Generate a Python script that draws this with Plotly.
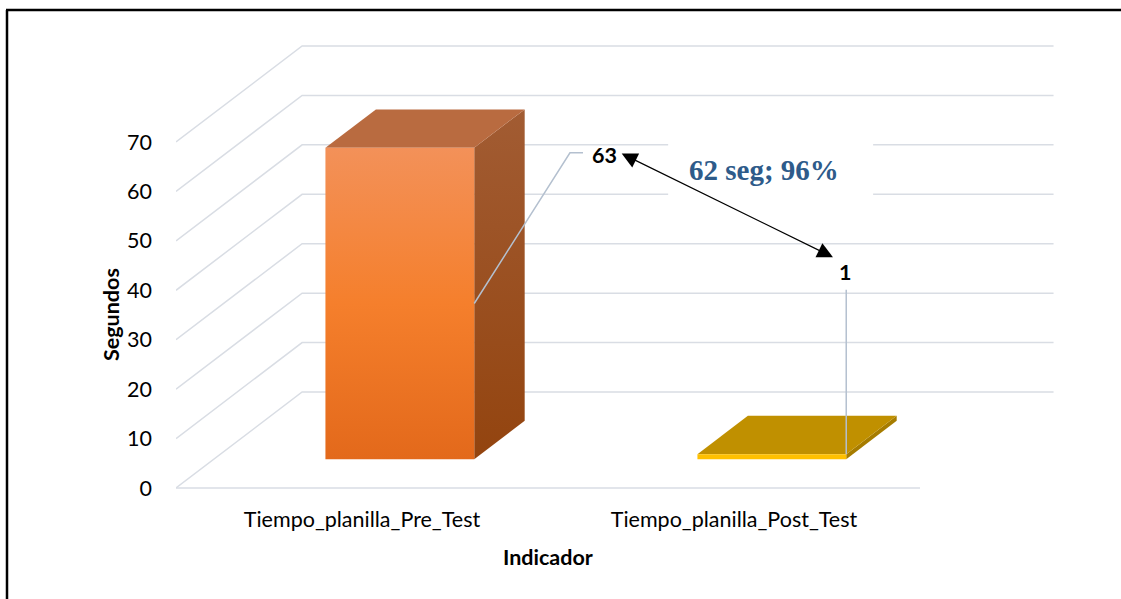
import plotly.graph_objects as go

# Data
categories = ["Tiempo_planilla_Pre_Test", "Tiempo_planilla_Post_Test"]
values = [63, 1]
y_ticks = [0, 10, 20, 30, 40, 50, 60, 70]
diff_label = "62 seg; 96%"

# Pseudo-3D projection: depth d in [0, 1] shifts a point back and up
DX = 0.339      # x shift (category units) for full depth
DY = 19.42      # y shift (value units) for full depth
HW = 0.2        # half width of a bar
D0, D1 = 0.30, 0.70   # bar depth span


def proj(x, v, d):
    return x + d * DX, v + d * DY


def poly(points):
    xs, ys = zip(*[proj(*p) for p in points])
    return list(xs) + [xs[0]], list(ys) + [ys[0]]


GRID = "#D9DDE4"
FONT = "Lato"
FS = 21.5

fig = go.Figure()

# Side wall + back wall gridlines
x_left, x_right = -0.5, 1.5
for v in y_ticks:
    p0 = proj(x_left, v, 0)
    p1 = proj(x_left, v, 1)
    p2 = proj(x_right + 0.02, v, 1)
    fig.add_trace(go.Scatter(x=[p0[0], p1[0], p2[0]], y=[p0[1], p1[1], p2[1]],
                             mode="lines", line=dict(color=GRID, width=1.5),
                             hoverinfo="skip", showlegend=False))
# Front floor edge
fig.add_trace(go.Scatter(x=[x_left, x_right], y=[0, 0], mode="lines",
                         line=dict(color=GRID, width=1.5),
                         hoverinfo="skip", showlegend=False))

# Bar styles
styles = [
    dict(front=[[0, "#E3691B"], [0.5, "#F57F2C"], [1, "#F39159"]],
         side=[[0, "#93440F"], [1, "#A25C33"]],
         top="#B96B40"),
    dict(front=[[0, "#FFC000"], [1, "#FFC000"]],
         side=[[0, "#A67C00"], [1, "#A67C00"]],
         top="#C09000"),
]

for i, (h, st) in enumerate(zip(values, styles)):
    # right side face
    sx, sy = poly([(i + HW, 0, D0), (i + HW, 0, D1), (i + HW, h, D1), (i + HW, h, D0)])
    fig.add_trace(go.Scatter(x=sx, y=sy, mode="lines", fill="toself",
                             line=dict(width=0),
                             fillgradient=dict(type="vertical", colorscale=st["side"]),
                             hoverinfo="skip", showlegend=False))
    # top face
    tx, ty = poly([(i - HW, h, D0), (i + HW, h, D0), (i + HW, h, D1), (i - HW, h, D1)])
    fig.add_trace(go.Scatter(x=tx, y=ty, mode="lines", fill="toself",
                             line=dict(width=0), fillcolor=st["top"],
                             hoverinfo="skip", showlegend=False))
    # front face
    fx, fy = poly([(i - HW, 0, D0), (i + HW, 0, D0), (i + HW, h, D0), (i - HW, h, D0)])
    fig.add_trace(go.Scatter(x=fx, y=fy, mode="lines", fill="toself",
                             line=dict(width=0),
                             fillgradient=dict(type="vertical", colorscale=st["front"]),
                             hoverinfo="skip", showlegend=False))

LEAD = "#B4C0CF"
# Leader line for the first bar label (from mid-height of front right edge)
a0 = proj(0 + HW, values[0] / 2, D0)
lbl0 = (0.594, values[0] + 4.8)
fig.add_trace(go.Scatter(x=[a0[0], lbl0[0] - 0.035, lbl0[0]],
                         y=[a0[1], lbl0[1], lbl0[1]],
                         mode="lines", line=dict(color=LEAD, width=1.5),
                         hoverinfo="skip", showlegend=False))
# Leader line for the second bar label (from top front right corner)
a1 = proj(1 + HW, values[1], D0)
fig.add_trace(go.Scatter(x=[a1[0], a1[0]], y=[a1[1], values[1] + 39.1],
                         mode="lines", line=dict(color=LEAD, width=1.5),
                         hoverinfo="skip", showlegend=False))

# White box behind the difference label
fig.add_shape(type="rect", xref="x", yref="y", x0=0.823, x1=1.374, y0=59.3, y1=69.8,
              fillcolor="white", line=dict(width=0), layer="above")

annotations = [
    dict(x=lbl0[0] + 0.02, y=lbl0[1] - 0.4, text=f"<b>{values[0]}</b>", showarrow=False,
         xanchor="left", yanchor="middle", font=dict(family=FONT, size=FS, color="black")),
    dict(x=a1[0] - 0.003, y=values[1] + 42.6, text=f"<b>{values[1]}</b>", showarrow=False,
         xanchor="center", yanchor="middle", font=dict(family=FONT, size=FS, color="black")),
    # double-headed arrow between the two labels
    dict(x=1.266, y=46.7, ax=0.694, ay=67.8, xref="x", yref="y", axref="x", ayref="y",
         text="", showarrow=True, arrowhead=2, startarrowhead=2, arrowside="end+start",
         arrowsize=2.6, startarrowsize=2.6, arrowwidth=1.2, arrowcolor="black"),
    dict(x=1.081, y=64.3, text=f"<b>{diff_label}</b>", showarrow=False,
         xanchor="center", yanchor="middle",
         font=dict(family="Liberation Serif, Times New Roman, serif", size=29, color="#2E5B8A")),
    dict(xref="paper", x=(111 - 176) / 945, y=35, text="<b>Segundos</b>", textangle=-90,
         xanchor="center", yanchor="middle",
         showarrow=False, font=dict(family=FONT, size=FS, color="black")),
    dict(x=0.5, yref="paper", y=(491 - 557) / 491, text="<b>Indicador</b>", showarrow=False,
         xanchor="center", yanchor="middle",
         font=dict(family=FONT, size=FS, color="black")),
]

# Outer frame (top and left edges)
fig.add_shape(type="line", xref="paper", yref="paper",
              x0=(6 - 176) / 945, x1=(1121 - 176) / 945, y0=(491 - 10) / 491, y1=(491 - 10) / 491,
              line=dict(color="black", width=2.5))
fig.add_shape(type="line", xref="paper", yref="paper",
              x0=(7 - 176) / 945, x1=(7 - 176) / 945, y0=(491 - 10) / 491, y1=(491 - 599) / 491,
              line=dict(color="black", width=2.5))

fig.update_layout(
    width=1121, height=599,
    margin=dict(l=176, r=0, t=0, b=108),
    plot_bgcolor="white", paper_bgcolor="white",
    annotations=annotations,
    xaxis=dict(range=[-0.5, -0.5 + 945 / 372], showgrid=False, zeroline=False,
               showline=False, tickmode="array", tickvals=[0, 1], ticktext=categories,
               ticklabelstandoff=13,
               tickfont=dict(family=FONT, size=FS, color="black")),
    yaxis=dict(range=[-3 / 4.943, 488 / 4.943], showgrid=False, zeroline=False,
               showline=False, tickmode="array", tickvals=y_ticks,
               ticklabelstandoff=23,
               tickfont=dict(family=FONT, size=FS, color="black")),
    showlegend=False,
)

fig.write_html("out.html")
